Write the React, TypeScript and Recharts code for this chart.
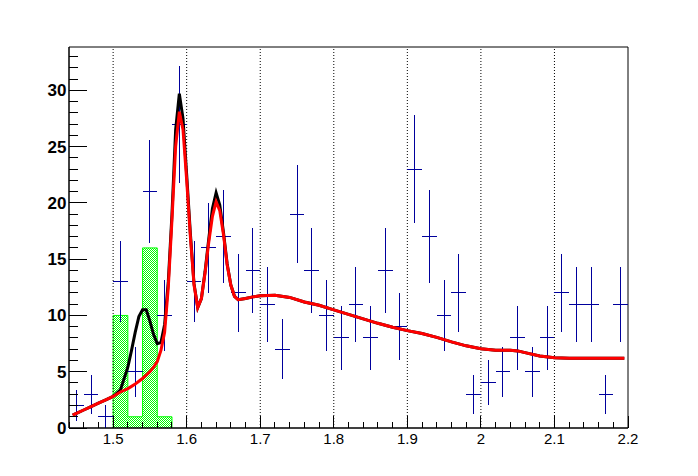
import { Area, ComposedChart, ErrorBar, Line, ReferenceArea, ReferenceLine, Scatter, XAxis, YAxis } from 'recharts';

// data histogram (bin centres, counts)
const binCenters = [
  1.45, 1.47, 1.49, 1.51, 1.53, 1.55, 1.57, 1.59, 1.61, 1.63, 1.65, 1.67, 1.69, 1.71, 1.73, 1.75, 1.77, 1.79, 1.81,
  1.83, 1.85, 1.87, 1.89, 1.91, 1.93, 1.95, 1.97, 1.99, 2.01, 2.03, 2.05, 2.07, 2.09, 2.11, 2.13, 2.15, 2.17, 2.19,
];
const counts = [
  2, 3, 1, 13, 5, 21, 10, 27, 13, 16, 17, 12, 14, 11, 7, 19, 14, 10, 8, 11, 8, 14, 9, 23, 17, 10, 12, 3, 4, 5, 8, 5,
  8, 12, 11, 11, 3, 11,
];

// green hatched histogram
const greenEdges = [1.5, 1.52, 1.54, 1.56, 1.58];
const greenCounts = [10, 1, 16, 1];

// fit curves
const curveX = [
  1.445, 1.45, 1.46, 1.47, 1.48, 1.49, 1.5, 1.51, 1.52, 1.525, 1.53, 1.535, 1.54, 1.545, 1.55, 1.555, 1.56, 1.565,
  1.57, 1.575, 1.58, 1.585, 1.59, 1.595, 1.6, 1.605, 1.61, 1.615, 1.62, 1.625, 1.63, 1.635, 1.64, 1.645, 1.65, 1.655,
  1.66, 1.665, 1.67, 1.68, 1.69, 1.7, 1.72, 1.74, 1.76, 1.78, 1.8, 1.82, 1.84, 1.86, 1.88, 1.9, 1.92, 1.94, 1.96,
  1.98, 2.0, 2.02, 2.04, 2.05, 2.06, 2.08, 2.1, 2.12, 2.14, 2.16, 2.18, 2.195,
];
const totalFit = [
  1.15, 1.3, 1.6, 1.9, 2.2, 2.5, 2.8, 3.4, 5.4, 6.9, 8.5, 9.9, 10.5, 10.5, 9.5, 8.3, 7.5, 7.6, 9.2, 13, 19, 26.5,
  29.7, 27.5, 22.5, 17.3, 12.8, 10.7, 11.5, 13.9, 16.8, 19.5, 20.9, 19.8, 17.4, 14.6, 12.7, 11.7, 11.4, 11.5, 11.65,
  11.75, 11.8, 11.6, 11.2, 10.9, 10.5, 10.1, 9.7, 9.3, 8.95, 8.65, 8.4, 8.05, 7.65, 7.3, 7.05, 6.9, 6.9, 6.85, 6.7,
  6.4, 6.25, 6.2, 6.2, 6.2, 6.2, 6.2,
];
const bkgFit = [
  1.15, 1.3, 1.6, 1.9, 2.2, 2.5, 2.8, 3.2, 3.5, 3.7, 3.9, 4.15, 4.4, 4.7, 5.0, 5.4, 5.9, 6.9, 8.5, 12.5, 18.5, 25,
  28.1, 26.5, 22, 17, 12.7, 10.7, 11.5, 13.8, 16.5, 18.8, 20.1, 19.3, 17.2, 14.5, 12.7, 11.7, 11.4, 11.5, 11.65,
  11.75, 11.8, 11.6, 11.2, 10.9, 10.5, 10.1, 9.7, 9.3, 8.95, 8.65, 8.4, 8.05, 7.65, 7.3, 7.05, 6.9, 6.9, 6.85, 6.7,
  6.4, 6.25, 6.2, 6.2, 6.2, 6.2, 6.2,
];

const xLabels = [1.5, 1.6, 1.7, 1.8, 1.9, 2, 2.1, 2.2];
const yLabels = [0, 5, 10, 15, 20, 25, 30];
const gridX = [1.5, 1.6, 1.7, 1.8, 1.9, 2, 2.1];

const X_MIN = 1.44;
const X_MAX = 2.2;
const Y_MAX = 33.85;
const FONT = '"Liberation Sans", Arial, Helvetica, sans-serif';
const BLUE = '#00009c';

const xTicks = Array.from({ length: 39 }, (_, i) => Math.round((X_MIN + i * 0.02) * 100) / 100);
const yTicks = Array.from({ length: 34 }, (_, i) => i);

const points = binCenters.map((x, i) => ({ x, y: counts[i], ex: 0.01, ey: Math.sqrt(counts[i]) }));
const greenHist = [
  { x: greenEdges[0], y: 0 },
  ...greenCounts.map((c, i) => ({ x: greenEdges[i], y: c })),
  { x: greenEdges[greenEdges.length - 1], y: 0 },
];
const blackCurve = curveX.map((x, i) => ({ x, y: totalFit[i] }));
const redCurve = curveX.map((x, i) => ({ x, y: bkgFit[i] }));

function XTick({ x, y, payload }: any) {
  const label = xLabels.find((l) => Math.abs(l - payload.value) < 1e-6);
  const major = label !== undefined;
  return (
    <g>
      <line x1={x} x2={x} y1={y} y2={y - (major ? 12 : 6)} stroke="#000" shapeRendering="crispEdges" />
      {major && (
        <text x={x} y={y + 15.5} textAnchor="middle" fontSize={15} fontFamily={FONT} fill="#000">
          {String(label)}
        </text>
      )}
    </g>
  );
}

function YTick({ x, y, payload }: any) {
  const major = yLabels.includes(payload.value);
  return (
    <g>
      <line x1={x} x2={x + (major ? 18 : 9)} y1={y} y2={y} stroke="#000" shapeRendering="crispEdges" />
      {major && (
        <text x={x - 2.5} y={y + 6} textAnchor="end" fontSize={17} fontWeight="bold" fontFamily={FONT} fill="#000">
          {payload.value}
        </text>
      )}
    </g>
  );
}

export default function App() {
  return (
    <div style={{ position: 'absolute', left: 0, top: 0, width: 698, height: 476, background: '#fff' }}>
      <ComposedChart width={698} height={476} margin={{ top: 47, right: 70, bottom: 47, left: 68 }}>
        <defs>
          <pattern id="greenCheck" width={2} height={2} patternUnits="userSpaceOnUse">
            <rect width={2} height={2} fill="#ffffff" />
            <rect x={0} y={0} width={1} height={1} fill="#00ff00" />
            <rect x={1} y={1} width={1} height={1} fill="#00ff00" />
          </pattern>
        </defs>
        <XAxis
          type="number"
          dataKey="x"
          domain={[X_MIN, X_MAX]}
          ticks={xTicks}
          interval={0}
          allowDataOverflow
          height={1}
          tickSize={0}
          tickMargin={0}
          tickLine={false}
          tick={<XTick />}
          axisLine={{ stroke: '#000' }}
        />
        <YAxis
          type="number"
          domain={[0, Y_MAX]}
          ticks={yTicks}
          interval={0}
          allowDataOverflow
          width={1}
          tickSize={0}
          tickMargin={0}
          tickLine={false}
          tick={<YTick />}
          axisLine={{ stroke: '#000' }}
        />
        {gridX.map((g) => (
          <ReferenceLine key={g} x={g} stroke="#000" strokeDasharray="1 2" strokeWidth={1} />
        ))}
        <Area
          data={greenHist}
          dataKey="y"
          type="stepAfter"
          stroke="#00ff00"
          strokeWidth={1}
          fill="url(#greenCheck)"
          fillOpacity={1}
          baseValue={0}
          isAnimationActive={false}
          dot={false}
          activeDot={false}
        />
        <Scatter data={points} dataKey="y" shape={() => <g />} isAnimationActive={false}>
          <ErrorBar dataKey="ey" direction="y" width={0} stroke={BLUE} strokeWidth={1} shapeRendering="crispEdges" />
          <ErrorBar dataKey="ex" direction="x" width={0} stroke={BLUE} strokeWidth={1} shapeRendering="crispEdges" />
        </Scatter>
        <Line data={blackCurve} dataKey="y" type="linear" stroke="#000" strokeWidth={3} dot={false} activeDot={false} isAnimationActive={false} />
        <Line data={redCurve} dataKey="y" type="linear" stroke="#ff0000" strokeWidth={3} dot={false} activeDot={false} isAnimationActive={false} />
        <ReferenceArea x1={X_MIN} x2={X_MAX} y1={0} y2={Y_MAX} fill="none" stroke="#000" strokeWidth={1} fillOpacity={0} />
      </ComposedChart>
    </div>
  );
}
